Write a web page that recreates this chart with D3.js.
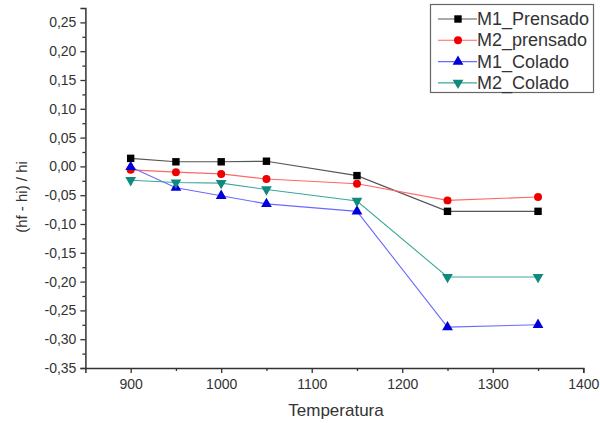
<!DOCTYPE html>
<html>
<head>
<meta charset="utf-8">
<script src="https://cdn.jsdelivr.net/npm/d3@7"></script>
<style>
  body { margin: 0; background: #fff; }
  text { font-family: Arial, "Liberation Sans", sans-serif; fill: #333; }
</style>
</head>
<body>
<div id="chart"></div>
<script>
// Data
var temps = [900, 950, 1000, 1050, 1150, 1250, 1350];
var m1Prensado = [0.014, 0.008, 0.008, 0.009, -0.016, -0.078, -0.078];
var m2Prensado = [-0.006, -0.010, -0.013, -0.022, -0.030, -0.059, -0.053];
var m1Colado = [-0.001, -0.037, -0.051, -0.065, -0.078, -0.279, -0.275];
var m2Colado = [-0.024, -0.028, -0.029, -0.040, -0.060, -0.192, -0.192];
var seriesNames = ["M1_Prensado", "M2_prensado", "M1_Colado", "M2_Colado"];
var xTicks = [900, 1000, 1100, 1200, 1300, 1400];
var yTicks = [-0.35, -0.30, -0.25, -0.20, -0.15, -0.10, -0.05, 0.00, 0.05, 0.10, 0.15, 0.20, 0.25];

var svgWidth = 600;
var svgHeight = 423;

var svg = d3.select("#chart")
  .append("svg")
  .attr("width", svgWidth)
  .attr("height", svgHeight);

// scales
var x = d3.scaleLinear().domain([850, 1400]).range([85.4, 583.3]);
var y = d3.scaleLinear().domain([-0.35, 0.275]).range([368, 8]);

var fmt = function(d) {
  return d3.format(".2f")(d).replace(".", ",").replace("\u2212", "-");
};

// minor ticks (halfway between majors)
var xMinor = [950, 1050, 1150, 1250, 1350];
var yMinor = yTicks.slice(0, -1).map(function(d) { return d + 0.025; });

// x axis
svg.append("g")
  .attr("transform", "translate(0," + y(-0.35) + ")")
  .call(d3.axisBottom(x).tickValues(xTicks).tickSize(5).tickPadding(6).tickFormat(d3.format("d")));
svg.append("g")
  .attr("transform", "translate(0," + y(-0.35) + ")")
  .call(d3.axisBottom(x).tickValues(xMinor).tickSize(3).tickFormat(""))
  .select(".domain").remove();

// y axis
svg.append("g")
  .attr("transform", "translate(" + x(850) + ",0)")
  .call(d3.axisLeft(y).tickValues(yTicks).tickSize(5).tickPadding(4).tickFormat(fmt));
svg.append("g")
  .attr("transform", "translate(" + x(850) + ",0)")
  .call(d3.axisLeft(y).tickValues(yMinor).tickSize(3).tickFormat(""))
  .select(".domain").remove();

svg.selectAll(".domain").attr("stroke", "#333").attr("stroke-width", 1.5);
svg.selectAll(".tick line").attr("stroke", "#333").attr("stroke-width", 1.3);
svg.selectAll(".tick text")
  .style("font-family", "Arial, 'Liberation Sans', sans-serif")
  .style("font-size", "14px")
  .attr("fill", "#555");

// axis titles
svg.append("text")
  .attr("x", 336)
  .attr("y", 416)
  .attr("text-anchor", "middle")
  .style("font-size", "17px")
  .text("Temperatura");

svg.append("text")
  .attr("transform", "translate(27,197) rotate(-90)")
  .attr("text-anchor", "middle")
  .style("font-size", "15px")
  .text("(hf - hi) / hi");

// series
var seriesData = [m1Prensado, m2Prensado, m1Colado, m2Colado];
var lineColors = ["#555555", "#ff6666", "#6a6aff", "#3aa89a"];
var markColors = ["#000000", "#ee0000", "#0000dd", "#108a80"];
var shapes = [d3.symbolSquare, d3.symbolCircle, d3.symbolTriangle, d3.symbolTriangle];
var sizes = [55, 50, 50, 50];
var rotations = [0, 0, 0, 180];

var line = d3.line()
  .x(function(d, i) { return x(temps[i]); })
  .y(function(d) { return y(d); });

seriesData.forEach(function(vals, s) {
  svg.append("path")
    .datum(vals)
    .attr("fill", "none")
    .attr("stroke", lineColors[s])
    .attr("stroke-width", 1.1)
    .attr("d", line);
});

seriesData.forEach(function(vals, s) {
  svg.selectAll(".mark" + s)
    .data(vals)
    .enter()
    .append("path")
    .attr("class", "mark" + s)
    .attr("d", d3.symbol().type(shapes[s]).size(sizes[s]))
    .attr("transform", function(d, i) {
      return "translate(" + x(temps[i]) + "," + y(d) + ") rotate(" + rotations[s] + ")";
    })
    .attr("fill", markColors[s]);
});

// legend
var legend = svg.append("g");
legend.append("rect")
  .attr("x", 430.5)
  .attr("y", 4.5)
  .attr("width", 163)
  .attr("height", 88)
  .attr("fill", "#fff")
  .attr("stroke", "#666")
  .attr("stroke-width", 1.2);

seriesNames.forEach(function(name, s) {
  var ly = 19 + s * 21.3;
  legend.append("line")
    .attr("x1", 438).attr("x2", 477)
    .attr("y1", ly).attr("y2", ly)
    .attr("stroke", lineColors[s])
    .attr("stroke-width", 1.1);
  legend.append("path")
    .attr("d", d3.symbol().type(shapes[s]).size(sizes[s]))
    .attr("transform", "translate(458," + ly + ") rotate(" + rotations[s] + ")")
    .attr("fill", markColors[s]);
  legend.append("text")
    .attr("x", 477)
    .attr("y", ly + 6)
    .style("font-size", "18px")
    .attr("fill", "#333")
    .text(name);
});
</script>
</body>
</html>
